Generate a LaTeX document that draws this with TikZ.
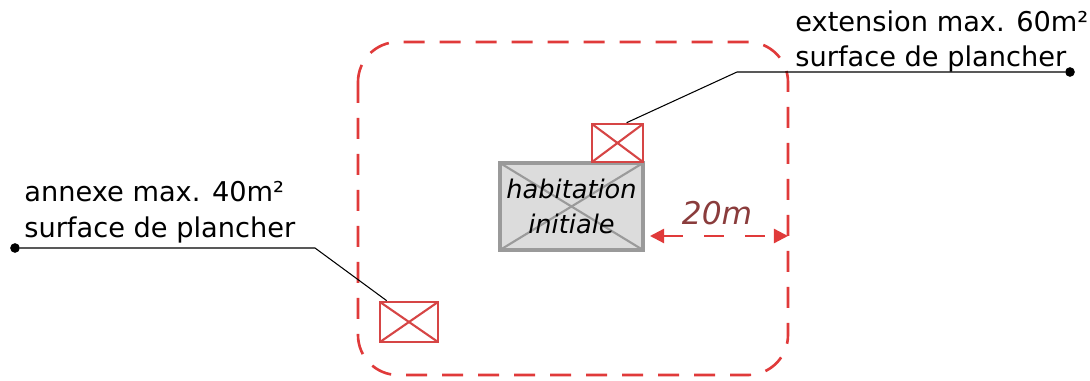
\documentclass[tikz,border=0pt]{standalone}
\usepackage{fontspec}
\setmainfont{DejaVu Sans}
\usetikzlibrary{arrows.meta, positioning}

\definecolor{zonered}{HTML}{E03A3A}
\definecolor{boxred}{HTML}{D64545}
\definecolor{housegray}{HTML}{9A9A9A}
\definecolor{housefill}{HTML}{DCDCDC}
\definecolor{dimbrown}{HTML}{8A3C3C}

\begin{document}
\begin{tikzpicture}[x=0.02cm, y=-0.02cm,
        crossbox/.style={rectangle, draw=boxred, line width=1.5pt, inner sep=0pt,
            path picture={
                \draw[boxred, line width=1.2pt] (path picture bounding box.north west) -- (path picture bounding box.south east);
                \draw[boxred, line width=1.2pt] (path picture bounding box.south west) -- (path picture bounding box.north east);
            }
        },
        house/.style={rectangle, draw=housegray, fill=housefill, line width=1.8pt, inner sep=0pt,
            minimum width=2.86cm, minimum height=1.74cm, align=center,
            font=\fontsize{14.6}{20}\selectfont\itshape,
            path picture={
                \draw[housegray, line width=1.2pt] (path picture bounding box.north west) -- (path picture bounding box.south east);
                \draw[housegray, line width=1.2pt] (path picture bounding box.south west) -- (path picture bounding box.north east);
            }
        },
        zone/.style={draw=zonered, line width=1.5pt, dash pattern=on 0.42cm off 0.3cm, rounded corners=0.8cm},
        leader/.style={draw=black, line width=0.6pt},
        pin/.style={circle, fill=black, inner sep=0pt, minimum size=5.5pt},
        label/.style={align=left, inner sep=0pt, anchor=north west, font=\fontsize{15.5}{20.4}\selectfont},
        dimline/.style={draw=zonered, line width=1.3pt, dash pattern=on 0.4cm off 0.42cm,
            {Triangle[length=8pt, width=8pt]}-{Triangle[length=8pt, width=8pt]}}
    ]
        \useasboundingbox (0,0) rectangle (1090,381);

        % constructible zone
        \draw[zone] (358,42) rectangle (788,375);

        % existing house and additions
        \node[house] (habitation) at (571.5,206.5) {habitation\\initiale};
        \node[crossbox, minimum width=1.02cm, minimum height=0.76cm] (extension) at (617.5,143) {};
        \node[crossbox, minimum width=1.16cm, minimum height=0.8cm] (annexe) at (409,322) {};

        % labels
        \node[label] (exttxt) at (795,10) {extension max. 60m²\\surface de plancher};
        \node[label] (annextxt) at (24,181) {annexe max. 40m²\\surface de plancher};

        % leaders
        \node[pin] (extpin) at (1070,72) {};
        \node[pin] (annexpin) at (15,248) {};
        \coordinate (extbend) at (737,72);
        \coordinate (annexbend) at (315,248);
        \draw[leader] (extpin) -- (extbend) -- ([xshift=0.72cm]extension.north west);
        \draw[leader] (annexpin) -- (annexbend) -- ([xshift=0.16cm]annexe.north west);

        % distance to the zone limit
        \coordinate (dimL) at (650,236);
        \coordinate (dimR) at (788,236);
        \draw[dimline] (dimL) -- (dimR);
        \node[font=\fontsize{17.8}{20}\selectfont\itshape, text=dimbrown] (dist) at (717,213) {20m};
    \end{tikzpicture}
\end{document}
